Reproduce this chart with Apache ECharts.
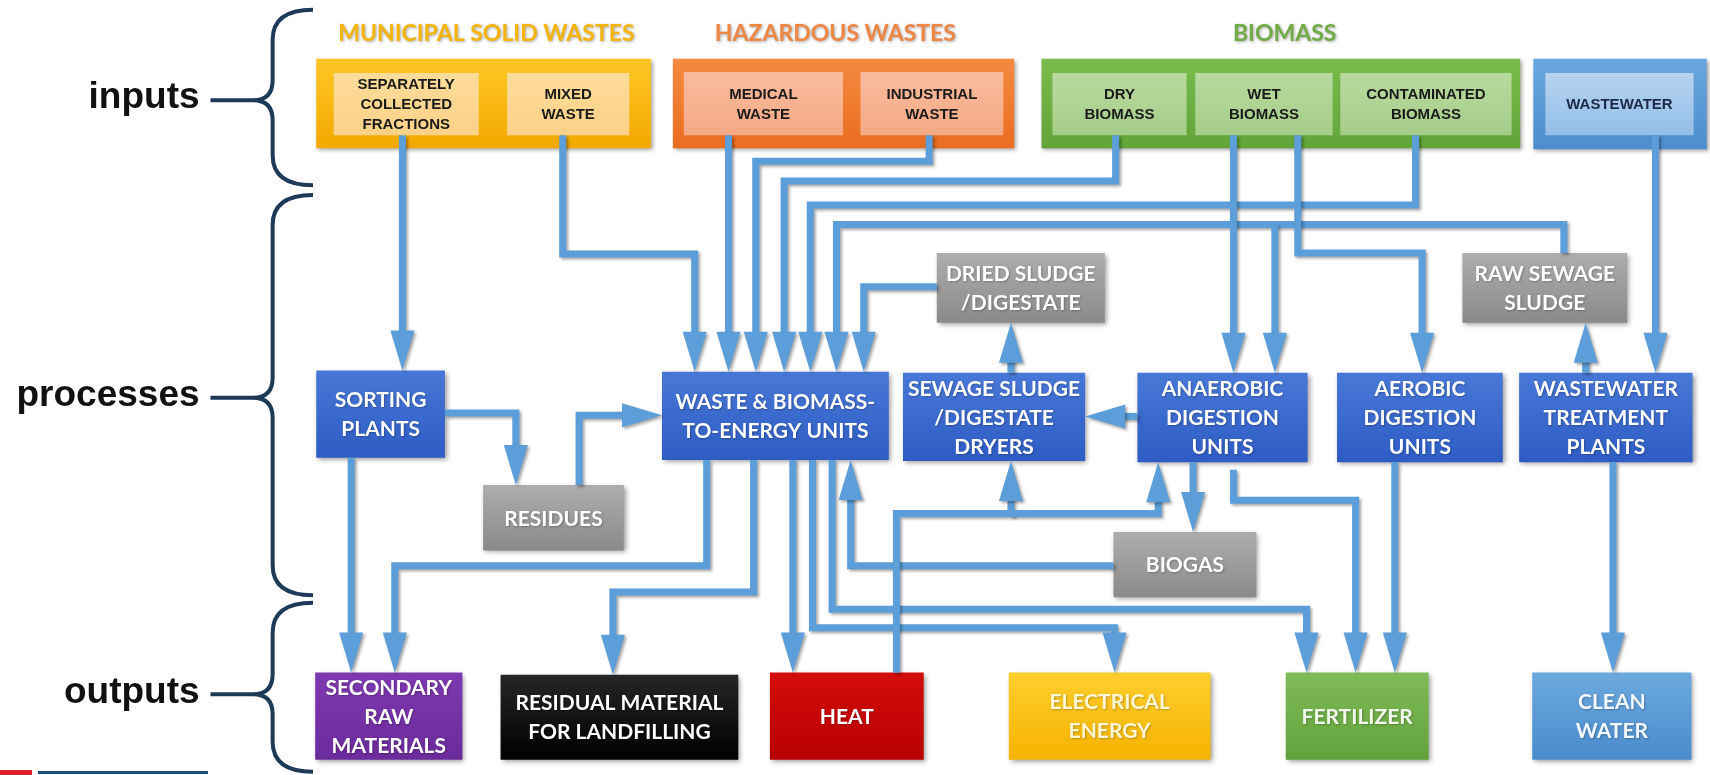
<!DOCTYPE html>
<html>
<head>
<meta charset="utf-8">
<title>Waste and biomass flows</title>
<script src="https://cdn.jsdelivr.net/npm/echarts/dist/echarts.min.js"></script>
<style>
  html, body { margin: 0; padding: 0; background: #fff; }
  #chart { width: 1710px; height: 775px; }
</style>
</head>
<body>
<div id="chart"></div>
<script>
var chart = echarts.init(document.getElementById('chart'));

// ---- data ----
var stageNames = ['inputs', 'processes', 'outputs'];
var groupTitles = ['MUNICIPAL SOLID WASTES', 'HAZARDOUS WASTES', 'BIOMASS'];

var nodeIds = ['sep', 'mix', 'med', 'ind', 'dry', 'wet', 'con', 'ww',
  'sort', 'wte', 'dryer', 'ad', 'aer', 'wwtp',
  'res', 'dried', 'raw', 'biogas',
  'srm', 'land', 'heat', 'elec', 'fert', 'water'];
var nodeLabels = ['SEPARATELY\nCOLLECTED\nFRACTIONS', 'MIXED\nWASTE', 'MEDICAL\nWASTE', 'INDUSTRIAL\nWASTE',
  'DRY\nBIOMASS', 'WET\nBIOMASS', 'CONTAMINATED\nBIOMASS', 'WASTEWATER',
  'SORTING\nPLANTS', 'WASTE & BIOMASS-\nTO-ENERGY UNITS', 'SEWAGE SLUDGE\n/DIGESTATE\nDRYERS',
  'ANAEROBIC\nDIGESTION\nUNITS', 'AEROBIC\nDIGESTION\nUNITS', 'WASTEWATER\nTREATMENT\nPLANTS',
  'RESIDUES', 'DRIED SLUDGE\n/DIGESTATE', 'RAW SEWAGE\nSLUDGE', 'BIOGAS',
  'SECONDARY\nRAW\nMATERIALS', 'RESIDUAL MATERIAL\nFOR LANDFILLING', 'HEAT', 'ELECTRICAL\nENERGY',
  'FERTILIZER', 'CLEAN\nWATER'];
var nodeKinds = ['msw', 'msw', 'haz', 'haz', 'bio', 'bio', 'bio', 'ww',
  'proc', 'proc', 'proc', 'proc', 'proc', 'proc',
  'gray', 'gray', 'gray', 'gray',
  'srm', 'land', 'heat', 'elec', 'fert', 'water'];

var flows = [['sep', 'sort'], ['mix', 'wte'], ['med', 'wte'], ['ind', 'wte'], ['dry', 'wte'],
  ['con', 'wte'], ['raw', 'wte'], ['raw', 'ad'], ['dried', 'wte'], ['wet', 'ad'], ['wet', 'aer'],
  ['ww', 'wwtp'], ['wwtp', 'raw'], ['sort', 'res'], ['res', 'wte'], ['sort', 'srm'], ['wte', 'srm'],
  ['wte', 'land'], ['wte', 'heat'], ['wte', 'elec'], ['wte', 'fert'], ['biogas', 'wte'],
  ['heat', 'dryer'], ['heat', 'ad'], ['ad', 'dryer'], ['dryer', 'dried'], ['ad', 'biogas'],
  ['ad', 'fert'], ['aer', 'fert'], ['wwtp', 'water']];

// ---- layout (diagram units, 1568 x 711) ----
var stageBraces = [[9, 92, 170], [179, 365, 546], [553, 637, 708]];
var groupFrames = [[290, 54, 597, 136], [617, 54, 930, 136], [955, 54, 1394, 136], [1406, 54, 1565, 137]];
var groupTitleAt = [[446, 31], [766, 31], [1178, 31]];
var nodeBoxes = [
  [306, 67, 439, 124], [465, 67, 577, 124], [627, 66, 773, 124], [789, 66, 920, 124],
  [965, 67, 1088, 124], [1096, 67, 1222, 124], [1229, 67, 1386, 124], [1417, 67, 1553, 124],
  [290, 340, 408, 420], [607, 341, 815, 422], [828, 342, 995, 423],
  [1043, 342, 1199, 424], [1226, 342, 1378, 424], [1393, 342, 1552, 424],
  [443, 445, 572, 505], [859, 232, 1013, 296], [1341, 232, 1492, 296], [1021, 488, 1152, 548],
  [289, 617, 424, 697], [459, 619, 677, 697], [706, 617, 847, 697], [925, 617, 1110, 697],
  [1179, 617, 1310, 697], [1405, 617, 1551, 697]];
var flowRoutes = [
  [[369, 124], [369, 340]],
  [[516, 124], [516, 233], [637, 233], [637, 341]],
  [[668, 124], [668, 341]],
  [[852, 124], [852, 148], [693, 148], [693, 341]],
  [[1023, 124], [1023, 166], [719, 166], [719, 341]],
  [[1298, 124], [1298, 188], [743, 188], [743, 341]],
  [[1434, 232], [1434, 206], [767, 206], [767, 341]],
  [[1169, 206], [1169, 342]],
  [[859, 263], [792, 263], [792, 341]],
  [[1131, 124], [1131, 342]],
  [[1190, 124], [1190, 232], [1304, 232], [1304, 342]],
  [[1518, 124], [1518, 342]],
  [[1454, 342], [1454, 296]],
  [[408, 379], [473, 379], [473, 445]],
  [[531, 445], [531, 381], [607, 381]],
  [[322, 420], [322, 617]],
  [[648, 422], [648, 519], [362, 519], [362, 617]],
  [[691, 422], [691, 543], [562, 543], [562, 619]],
  [[727, 422], [727, 617]],
  [[745, 422], [745, 576], [1022, 576], [1022, 617]],
  [[763, 422], [763, 559], [1198, 559], [1198, 617]],
  [[1021, 519], [780, 519], [780, 422]],
  [[822, 617], [822, 471], [927, 471], [927, 423]],
  [[927, 471], [1062, 471], [1062, 424]],
  [[1043, 382], [995, 382]],
  [[927, 342], [927, 296]],
  [[1094, 424], [1094, 488]],
  [[1131, 431], [1131, 459], [1243, 459], [1243, 617]],
  [[1279, 424], [1279, 617]],
  [[1479, 424], [1479, 617]]];

// ---- styles ----
var flowColor = '#5b9ed9';
var braceColor = '#1d3a57';
var frameFill = [['#ffc626', '#f2a900'], ['#f58a40', '#e96d1f'], ['#7abb4d', '#62a438'], ['#6aa7de', '#4c8dcd']];
var titleColors = ['#f4b40a', '#ee8744', '#70ab45'];
var kindFill = {
  msw: ['#fddc9a', '#fbd188'], haz: ['#f9bb9c', '#f5a985'], bio: ['#b8da9f', '#a5cd89'], ww: ['#b6d3f0', '#93bee7'],
  proc: ['#4878d7', '#2e5cc4'], gray: ['#adadad', '#8a8a8a'],
  srm: ['#7e39b1', '#6b2b9b'], land: ['#262626', '#000000'], heat: ['#d40c0c', '#b80000'],
  elec: ['#ffce2e', '#f5b300'], fert: ['#7fbb57', '#62a23b'], water: ['#6ca9df', '#4a8bcb']
};
var kindText = {
  msw: '#1a1a1a', haz: '#1a1a1a', bio: '#1a1a1a', ww: '#1c2a48', proc: '#ffffff', gray: '#ffffff',
  srm: '#ffffff', land: '#ffffff', heat: '#ffffff', elec: '#fff6d5', fert: '#f2f9ec', water: '#f3f8ff'
};
var smallKinds = { msw: 1, haz: 1, bio: 1, ww: 1 };

function grad(c) {
  return new echarts.graphic.LinearGradient(0, 0, 0, 1, [{ offset: 0, color: c[0] }, { offset: 1, color: c[1] }]);
}
function rectOf(api, b) {
  var p0 = api.coord([b[0], b[1]]);
  var p1 = api.coord([b[2], b[3]]);
  return { x: p0[0], y: p0[1], width: p1[0] - p0[0], height: p1[1] - p0[1] };
}
function idx(list) {
  return list.map(function (d, i) { return [i, 0]; });
}

var braceSeries = {
  type: 'custom',
  name: 'stages',
  silent: true,
  data: idx(stageNames),
  renderItem: function (params, api) {
    var s = stageBraces[params.dataIndex];
    var top = api.coord([0, s[0]])[1], mid = api.coord([0, s[1]])[1], bot = api.coord([0, s[2]])[1];
    var xp = api.coord([232, 0])[0], xv = api.coord([250, 0])[0], xt = api.coord([287, 0])[0];
    var r = 30, m = 20;
    var d = 'M' + xt + ',' + top + ' Q' + xv + ',' + top + ' ' + xv + ',' + (top + r) +
      ' L' + xv + ',' + (mid - m) + ' Q' + xv + ',' + mid + ' ' + xp + ',' + mid +
      ' Q' + xv + ',' + mid + ' ' + xv + ',' + (mid + m) +
      ' L' + xv + ',' + (bot - r) + ' Q' + xv + ',' + bot + ' ' + xt + ',' + bot;
    var d0 = api.coord([193, s[1]]);
    return {
      type: 'group',
      children: [
        { type: 'path', shape: { pathData: d }, style: { stroke: braceColor, lineWidth: 4, fill: null } },
        { type: 'line', shape: { x1: d0[0], y1: d0[1], x2: xp, y2: d0[1] }, style: { stroke: braceColor, lineWidth: 4 } },
        {
          type: 'text',
          style: {
            text: stageNames[params.dataIndex], x: api.coord([183, 0])[0], y: d0[1] - 2,
            fill: '#111', font: 'bold 37px "Liberation Sans", Arial, sans-serif',
            align: 'right', verticalAlign: 'middle'
          }
        }
      ]
    };
  }
};

var frameSeries = {
  type: 'custom',
  name: 'groups',
  silent: true,
  data: idx(groupFrames),
  renderItem: function (params, api) {
    var i = params.dataIndex;
    var children = [{
      type: 'rect', shape: rectOf(api, groupFrames[i]),
      style: { fill: grad(frameFill[i]), shadowBlur: 4, shadowColor: 'rgba(0,0,0,0.35)', shadowOffsetX: 2, shadowOffsetY: 2 }
    }];
    if (i < groupTitles.length) {
      var p = api.coord(groupTitleAt[i]);
      children.push({
        type: 'text',
        style: {
          text: groupTitles[i], x: p[0], y: p[1], fill: titleColors[i],
          font: 'bold 23px Lato, "Open Sans", sans-serif', align: 'center', verticalAlign: 'middle',
          textShadowColor: 'rgba(0,0,0,0.35)', textShadowBlur: 3, textShadowOffsetX: 1, textShadowOffsetY: 1
        }
      });
    }
    return { type: 'group', children: children };
  }
};

var boxSeries = {
  type: 'custom',
  name: 'units',
  silent: true,
  data: idx(nodeIds),
  renderItem: function (params, api) {
    var i = params.dataIndex;
    var kind = nodeKinds[i];
    var r = rectOf(api, nodeBoxes[i]);
    var small = smallKinds[kind];
    return {
      type: 'group',
      children: [
        {
          type: 'rect', shape: r,
          style: small ? { fill: grad(kindFill[kind]) } :
            { fill: grad(kindFill[kind]), shadowBlur: 5, shadowColor: 'rgba(0,0,0,0.4)', shadowOffsetX: 2, shadowOffsetY: 2 }
        },
        {
          type: 'text',
          style: {
            text: nodeLabels[i], x: r.x + r.width / 2, y: r.y + r.height / 2 + 1,
            fill: kindText[kind], align: 'center', verticalAlign: 'middle',
            font: small ? 'bold 15px "Liberation Sans", Arial, sans-serif'
              : 'bold 21px Lato, "Open Sans", sans-serif',
            lineHeight: small ? 20 : 29,
            textShadowColor: small ? 'transparent' : 'rgba(0,0,0,0.25)',
            textShadowBlur: small ? 0 : 2, textShadowOffsetX: 1, textShadowOffsetY: 1
          }
        }
      ]
    };
  }
};

var flowSeries = {
  type: 'custom',
  name: 'flows',
  silent: true,
  data: idx(flows),
  renderItem: function (params, api) {
    var pts = flowRoutes[params.dataIndex].map(function (p) { return api.coord(p); });
    var n = pts.length;
    var a = pts[n - 2], b = pts[n - 1];
    var dx = b[0] - a[0], dy = b[1] - a[1];
    var len = Math.sqrt(dx * dx + dy * dy);
    var ux = dx / len, uy = dy / len;
    var L = 40, hw = 12;
    var base = [b[0] - ux * L, b[1] - uy * L];
    var line = pts.slice(0, n - 1).concat([[b[0] - ux * L * 0.6, b[1] - uy * L * 0.6]]);
    var shadow = { shadowBlur: 3, shadowColor: 'rgba(0,0,0,0.35)', shadowOffsetX: 2, shadowOffsetY: 2 };
    return {
      type: 'group',
      children: [
        {
          type: 'polyline', shape: { points: line },
          style: Object.assign({ stroke: flowColor, lineWidth: 7, fill: null, lineJoin: 'miter' }, shadow)
        },
        {
          type: 'polygon',
          shape: { points: [b, [base[0] - uy * hw, base[1] + ux * hw], [base[0] + uy * hw, base[1] - ux * hw]] },
          style: Object.assign({ fill: flowColor }, shadow)
        }
      ]
    };
  }
};

var option = {
  animation: false,
  backgroundColor: '#ffffff',
  grid: { left: 0, right: 0, top: 0, bottom: 0 },
  xAxis: { type: 'value', min: 0, max: 1568, show: false },
  yAxis: { type: 'value', min: 0, max: 711, inverse: true, show: false },
  graphic: [
    { type: 'rect', left: 0, top: 770, shape: { width: 32, height: 5 }, style: { fill: '#e0202a' } },
    { type: 'rect', left: 38, top: 771, shape: { width: 170, height: 3 }, style: { fill: '#1f4e79' } }
  ],
  series: [braceSeries, frameSeries, boxSeries, flowSeries]
};

chart.setOption(option);
</script>
</body>
</html>
